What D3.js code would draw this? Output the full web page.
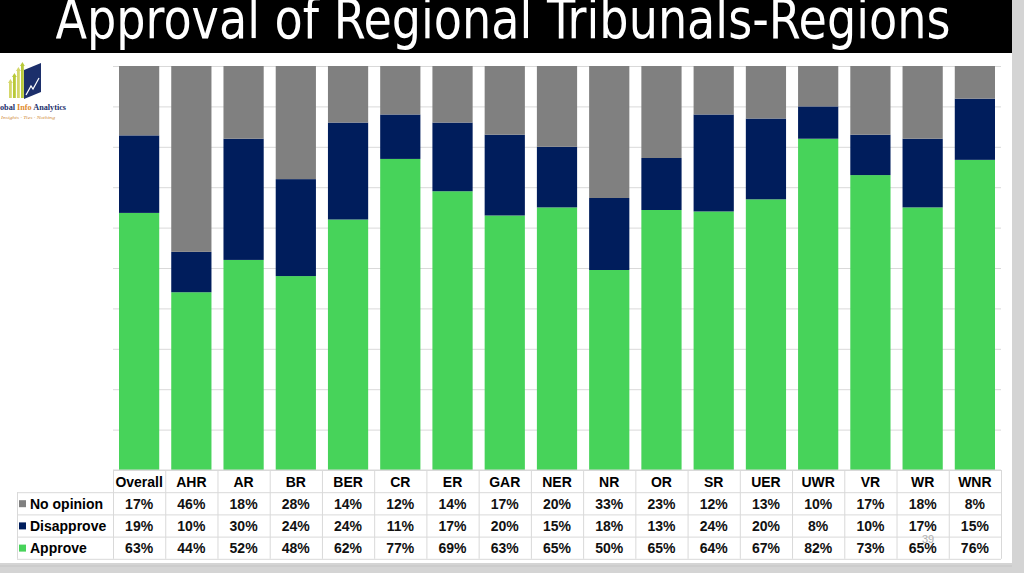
<!DOCTYPE html>
<html>
<head>
<meta charset="utf-8">
<script src="https://cdn.jsdelivr.net/npm/d3@7"></script>
<style>
  html, body { margin: 0; padding: 0; background: #d4d4d4; overflow: hidden; }
  svg { display: block; font-family: Arial, "Liberation Sans", sans-serif; }
</style>
</head>
<body>
<div id="chart"></div>
<script>
// data
const categories = ["Overall", "AHR", "AR", "BR", "BER", "CR", "ER", "GAR", "NER",
  "NR", "OR", "SR", "UER", "UWR", "VR", "WR", "WNR"];
const seriesNames = ["No opinion", "Disapprove", "Approve"];
const noOpinion  = [17, 46, 18, 28, 14, 12, 14, 17, 20, 33, 23, 12, 13, 10, 17, 18, 8];
const disapprove = [19, 10, 30, 24, 24, 11, 17, 20, 15, 18, 13, 24, 20, 8, 10, 17, 15];
const approve    = [63, 44, 52, 48, 62, 77, 69, 63, 65, 50, 65, 64, 67, 82, 73, 65, 76];
const yTicks = d3.range(0, 1.01, 0.1);

const width = 1024;
const height = 573;
const plot = { left: 113, right: 1001, top: 66, bottom: 470 };

const colors = { "No opinion": "#808080", "Disapprove": "#001d5c", "Approve": "#47d35a" };
const grid = "#d9d9d9";

const svg = d3.select("#chart").append("svg")
  .attr("width", width)
  .attr("height", height);

// slide background
svg.append("rect").attr("width", width).attr("height", height).attr("fill", "#d4d4d4");
svg.append("rect").attr("width", 1012).attr("height", 563).attr("fill", "#ffffff");
svg.append("line").attr("x1", 0).attr("x2", 1012).attr("y1", 566).attr("y2", 566)
  .attr("stroke", "#c4c4c4").attr("stroke-width", 1);

// title bar
svg.append("rect").attr("width", 1012).attr("height", 53).attr("fill", "#000");
svg.append("text")
  .attr("x", 503).attr("y", 38)
  .attr("text-anchor", "middle")
  .attr("textLength", 895)
  .attr("lengthAdjust", "spacingAndGlyphs")
  .style("font-family", "'Liberation Sans Narrow', 'DejaVu Sans Condensed', 'Roboto', sans-serif")
  .style("font-size", "56px")
  .style("fill", "#fff")
  .text("Approval of Regional Tribunals-Regions");

// logo
const logo = svg.append("g");
[[9, 82], [13, 76], [17, 70], [21, 65]].forEach(([lx, ly], i) => {
  logo.append("rect").attr("x", lx).attr("y", ly).attr("width", 2.8).attr("height", 98 - ly)
    .attr("fill", i % 2 ? "#b8c93a" : "#d5d76a");
  logo.append("path")
    .attr("d", `M${lx - 1},${ly + 1} L${lx + 1.4},${ly - 3} L${lx + 3.8},${ly + 1} Z`)
    .attr("fill", i % 2 ? "#b8c93a" : "#d5d76a");
});
logo.append("path")
  .attr("d", "M24,70 L41,63 L41,92 L24,99 Z")
  .attr("fill", "#1c2f6b");
logo.append("path")
  .attr("d", "M26,95 L31,86 L33,89 L39,78")
  .attr("fill", "none").attr("stroke", "#fff").attr("stroke-width", 1.2);
const logoText = logo.append("text")
  .attr("x", 0).attr("y", 110)
  .attr("textLength", 66)
  .attr("lengthAdjust", "spacingAndGlyphs")
  .style("font-family", "'Liberation Serif', 'DejaVu Serif', serif")
  .style("font-size", "8px")
  .style("font-weight", "bold")
  .style("fill", "#1c2f6b");
logoText.append("tspan").text("obal ");
logoText.append("tspan").style("fill", "#e08a2c").text("Info");
logoText.append("tspan").text(" Analytics");
logo.append("text")
  .attr("x", 1).attr("y", 119)
  .attr("textLength", 54)
  .attr("lengthAdjust", "spacingAndGlyphs")
  .style("font-family", "'Liberation Serif', serif")
  .style("font-size", "5px")
  .style("font-style", "italic")
  .style("fill", "#d08a3a")
  .text("Insights · Ties · Nothing");

// scales
const x = d3.scaleBand().domain(categories).range([plot.left, plot.right]).paddingInner(0.23).paddingOuter(0.115);
const col = d3.scaleBand().domain(categories).range([plot.left, plot.right]).padding(0);
const y = d3.scaleLinear().domain([0, 1]).range([plot.bottom, plot.top]);

// gridlines
svg.append("g")
  .attr("transform", `translate(${plot.left},0)`)
  .call(d3.axisLeft(y).tickValues(yTicks).tickSize(-(plot.right - plot.left)).tickFormat(""))
  .call(g => g.select(".domain").remove())
  .call(g => g.selectAll("line").attr("stroke", grid).attr("stroke-width", 1));

// stacked (normalised) bars
const rows = categories.map((c, i) => {
  const total = noOpinion[i] + disapprove[i] + approve[i];
  return {
    category: c,
    "Approve": approve[i] / total,
    "Disapprove": disapprove[i] / total,
    "No opinion": noOpinion[i] / total,
  };
});
const stack = d3.stack().keys(["Approve", "Disapprove", "No opinion"]);
const series = stack(rows);

svg.append("g")
  .selectAll("g")
  .data(series)
  .join("g")
  .attr("fill", d => colors[d.key])
  .selectAll("rect")
  .data(d => d)
  .join("rect")
  .attr("x", d => x(d.data.category))
  .attr("width", x.bandwidth())
  .attr("y", d => y(d[1]))
  .attr("height", d => y(d[0]) - y(d[1]));

// data table
const headerTop = plot.bottom;
const rowH = 22.2;
const tableRows = [
  { name: "No opinion", values: noOpinion },
  { name: "Disapprove", values: disapprove },
  { name: "Approve", values: approve },
];
const labelLeft = 17;
const table = svg.append("g");

// horizontal lines
table.append("line")
  .attr("x1", plot.left).attr("x2", plot.right)
  .attr("y1", headerTop).attr("y2", headerTop)
  .attr("stroke", grid);
d3.range(1, 5).forEach(k => {
  table.append("line")
    .attr("x1", labelLeft).attr("x2", plot.right)
    .attr("y1", headerTop + k * rowH + 0.5).attr("y2", headerTop + k * rowH + 0.5)
    .attr("stroke", grid);
});
// vertical lines
categories.concat(["__end"]).forEach((c, i) => {
  const xx = c === "__end" ? plot.right : col(c);
  table.append("line")
    .attr("x1", xx + 0.5).attr("x2", xx + 0.5)
    .attr("y1", headerTop).attr("y2", headerTop + 4 * rowH)
    .attr("stroke", grid);
});
table.append("line")
  .attr("x1", labelLeft + 0.5).attr("x2", labelLeft + 0.5)
  .attr("y1", headerTop + rowH).attr("y2", headerTop + 4 * rowH)
  .attr("stroke", grid);

// header labels
table.selectAll(".hdr")
  .data(categories)
  .join("text")
  .attr("class", "hdr")
  .attr("x", d => col(d) + col.bandwidth() / 2)
  .attr("y", headerTop + 16.5)
  .attr("text-anchor", "middle")
  .style("font-size", "14px")
  .style("font-weight", "bold")
  .style("fill", "#000")
  .text(d => d);

tableRows.forEach((r, ri) => {
  const rowY = headerTop + (ri + 1) * rowH;
  table.append("rect")
    .attr("x", 19).attr("y", rowY + 8).attr("width", 7).attr("height", 7)
    .attr("fill", colors[r.name]);
  table.append("text")
    .attr("x", 30).attr("y", rowY + 16.5)
    .style("font-size", "14px")
    .style("font-weight", "bold")
    .style("fill", "#000")
    .text(r.name);
  table.selectAll(null)
    .data(r.values)
    .join("text")
    .attr("x", (d, i) => col(categories[i]) + col.bandwidth() / 2)
    .attr("y", rowY + 16.5)
    .attr("text-anchor", "middle")
    .style("font-size", "14px")
    .style("font-weight", "bold")
    .style("fill", "#111")
    .text(d => d + "%");
});

// slide number
svg.append("text")
  .attr("x", 928).attr("y", 543)
  .attr("text-anchor", "middle")
  .style("font-size", "11px")
  .style("fill", "#b0b0b0")
  .text("39");
</script>
</body>
</html>
